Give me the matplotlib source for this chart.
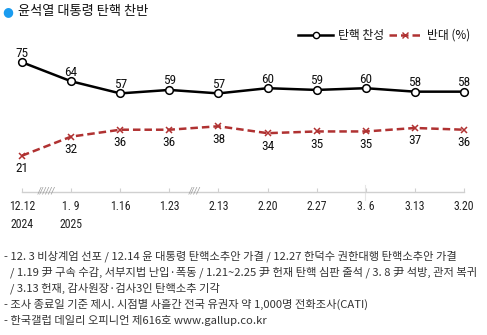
import matplotlib
matplotlib.use("Agg")
import matplotlib.pyplot as plt
from matplotlib import font_manager

dates = ["12.12", "1. 9", "1.16", "1.23", "2.13", "2.20", "2.27", "3. 6", "3.13", "3.20"]
years = {0: "2024", 1: "2025"}
approve = [75, 64, 57, 59, 57, 60, 59, 60, 58, 58]
oppose = [21, 32, 36, 36, 38, 34, 35, 35, 37, 36]
breaks = {0.5: "//////", 3.5: "////"}

KR = ["Noto Sans CJK KR", "DejaVu Sans"]
names = {f.name for f in font_manager.fontManager.ttflist}
NUM = ["Liberation Sans Narrow"] if "Liberation Sans Narrow" in names else ["Roboto Condensed"] if "Roboto Condensed" in names else ["Noto Sans CJK KR"]
plt.rcParams['font.family'] = KR

W, H = 487, 335
fig = plt.figure(figsize=(W / 100, H / 100), dpi=100)
x0, x1 = 22, 464
y0, ytop = 192, 53.6
ax = fig.add_axes([x0 / W, (H - y0) / H, (x1 - x0) / W, (y0 - ytop) / H])
ax.set_xlim(0, len(dates) - 1)
ax.set_ylim(0, 80)
for s in ["top", "right", "left"]:
    ax.spines[s].set_visible(False)
ax.spines["bottom"].set_color("#d0d0d0")
ax.spines["bottom"].set_linewidth(1)
ax.set_yticks([])
xs = list(range(len(dates)))
ax.set_xticks(xs)
ax.set_xticklabels([])
ax.tick_params(axis="x", direction="in", length=3, color="#d0d0d0")

red = "#b03232"
ax.plot(xs, approve, color="black", lw=1.8, marker="o", ms=5.5, mfc="white", mec="black", mew=1.1, clip_on=False, zorder=3)
ax.plot(xs, oppose, color=red, lw=1.8, ls=(0, (3, 1.6)), marker="x", ms=4.5, mec=red, mew=1.1, clip_on=False, zorder=3)

for i, v in enumerate(approve):
    ax.annotate(str(v), (i, v), xytext=(0, 9), textcoords="offset pixels", ha="center", va="center",
                fontsize=9.5, family=NUM, color="#111")
for i, v in enumerate(oppose):
    ax.annotate(str(v), (i, v), xytext=(0, -13), textcoords="offset pixels", ha="center", va="center",
                fontsize=9.5, family=NUM, color="#111")

for i, d in enumerate(dates):
    ax.annotate(d, (i, 0), xytext=(0, -15), textcoords="offset pixels", ha="center", va="center",
                fontsize=8.5, family=NUM, color="#222", annotation_clip=False)
for i, yv in years.items():
    ax.annotate(yv, (i, 0), xytext=(0, -32), textcoords="offset pixels", ha="center", va="center",
                fontsize=8.5, family=NUM, color="#222", annotation_clip=False)
for bx, t in breaks.items():
    ax.annotate(t, (bx, 0), xytext=(0, 1), textcoords="offset pixels", ha="center", va="center",
                fontsize=6, style="italic", family=["DejaVu Sans"], color="#999", annotation_clip=False)
ax.axvline(6.98, ymin=-0.06, ymax=0.05, color="#e6e6e6", lw=0.8, clip_on=False)

# title
fig.text(8 / W, 1 - 12 / H, "●", color="#1a9cf0", fontsize=9, ha="center", va="center", family=["DejaVu Sans"])
fig.text(18 / W, 1 - 12 / H, "윤석열 대통령 탄핵 찬반", fontsize=9.5, ha="left", va="center", color="#111")

# legend
ly = 1 - 35 / H
fig.add_artist(plt.Line2D([298 / W, 333 / W], [ly, ly], color="black", lw=1.8))
fig.add_artist(plt.Line2D([316 / W], [ly], marker="o", ms=4.5, mfc="white", mec="black", mew=1.0))
fig.text(338 / W, ly, "탄핵 찬성", fontsize=8.5, ha="left", va="center", color="#111")
fig.add_artist(plt.Line2D([389 / W, 422 / W], [ly, ly], color=red, lw=1.8, ls=(0, (3, 1.6))))
fig.add_artist(plt.Line2D([405 / W], [ly], marker="x", ms=4, mec=red, mew=1.0))
fig.text(427 / W, ly, "반대 (%)", fontsize=8.5, ha="left", va="center", color="#111")

notes = [
    (4, 256, "- 12. 3 비상계엄 선포 / 12.14 윤 대통령 탄핵소추안 가결 / 12.27 한덕수 권한대행 탄핵소추안 가결"),
    (10, 272, "/ 1.19 尹 구속 수감, 서부지법 난입·폭동 / 1.21~2.25 尹 헌재 탄핵 심판 출석 / 3. 8 尹 석방, 관저 복귀"),
    (10, 288, "/ 3.13 헌재, 감사원장·검사3인 탄핵소추 기각"),
    (4, 304, "- 조사 종료일 기준 제시. 시점별 사흘간 전국 유권자 약 1,000명 전화조사(CATI)"),
    (4, 320, "- 한국갤럽 데일리 오피니언 제616호 www.gallup.co.kr"),
]
for nx, ny, t in notes:
    fig.text(nx / W, 1 - ny / H, t, fontsize=8.1, ha="left", va="center", color="#333")

fig.savefig("out.png", dpi=100, facecolor="white")
